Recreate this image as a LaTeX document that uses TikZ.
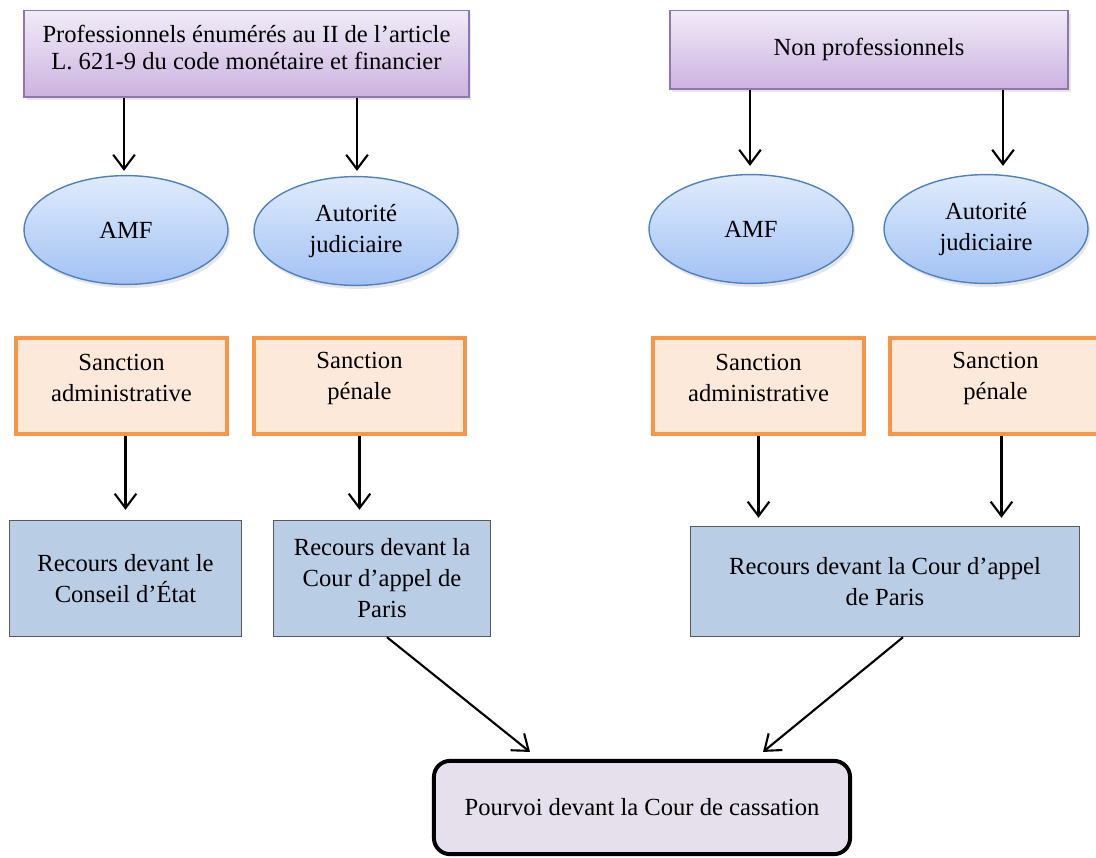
\documentclass[tikz,border=0pt]{standalone}
\usepackage{fontspec}
\setmainfont{Liberation Serif}
\usetikzlibrary{shapes.geometric,arrows.meta,shadows,calc}

\definecolor{purpleline}{HTML}{9075B0}
\definecolor{purpletop}{HTML}{F1ECF8}
\definecolor{purplebot}{HTML}{CCB3E0}
\definecolor{ellline}{HTML}{4F81BD}
\definecolor{elltop}{HTML}{E0EBFC}
\definecolor{ellbot}{HTML}{A2C2F4}
\definecolor{orangeline}{HTML}{F79646}
\definecolor{orangefill}{HTML}{FDE9D9}
\definecolor{recoursline}{HTML}{595959}
\definecolor{recoursfill}{HTML}{B9CDE5}
\definecolor{cassfill}{HTML}{E5E0EC}

\begin{document}
\begin{tikzpicture}[x=0.025cm,y=-0.025cm,
  every node/.style={font=\fontsize{17.5}{22}\selectfont,align=center},
  whobox/.style={draw=purpleline,line width=1.4pt,top color=purpletop,bottom color=purplebot,
    drop shadow={opacity=0.2,shadow xshift=1.5pt,shadow yshift=-2.5pt}},
  authority/.style={ellipse,draw=ellline,line width=1pt,top color=elltop,bottom color=ellbot,
    minimum width=5.1cm,minimum height=2.72cm,
    drop shadow={opacity=0.2,shadow xshift=1.5pt,shadow yshift=-2.5pt}},
  sanction/.style={draw=orangeline,line width=2.8pt,fill=orangefill,
    minimum width=5.28cm,minimum height=2.4cm,
    label={[yshift=0.19cm]center:{#1}}},
  recours/.style={draw=recoursline,line width=1pt,fill=recoursfill},
  flow/.style={-{Straight Barb[length=3.6mm,width=5.4mm]},line width=1.5pt}]
\clip (0,0) rectangle (1096,857);

% who
\node[whobox,minimum width=11.1cm,minimum height=2.15cm,
  label={[yshift=0.15cm,font=\fontsize{17.5}{19.4}\selectfont]center:{Professionnels énumérés au II de l’article\\L. 621-9 du code monétaire et financier}}]
  (pro) at (246.5,53.5) {};
\node[whobox,minimum width=9.97cm,minimum height=1.95cm] (nonpro) at (869,49.5)
  {Non professionnels};

% authorities
\node[authority] (amfA) at (126,230) {AMF};
\node[authority] (judA) at (356,231) {Autorité\\judiciaire};
\node[authority] (amfB) at (751,229) {AMF};
\node[authority] (judB) at (986,229) {Autorité\\judiciaire};

% sanctions
\node[sanction={Sanction\\administrative}] (sanA) at (121.5,386) {};
\node[sanction={Sanction\\pénale}] (sanB) at (359.5,386) {};
\node[sanction={Sanction\\administrative}] (sanC) at (758.5,386) {};
\node[sanction={Sanction\\pénale}] (sanD) at (995.5,386) {};

% appeals
\node[recours,minimum width=5.8cm,minimum height=2.9cm] (recA) at (125.5,578.5)
  {Recours devant le\\Conseil d’État};
\node[recours,minimum width=5.43cm,minimum height=2.9cm] (recB) at (382,578.5)
  {Recours devant la\\Cour d’appel de\\Paris};
\node[recours,minimum width=9.72cm,minimum height=2.75cm] (recC) at (885,581.5)
  {Recours devant la Cour d’appel\\de Paris};

\node[draw,line width=2.8pt,fill=cassfill,rounded corners=0.4cm,
  minimum width=10.4cm,minimum height=2.33cm] (cass) at (642,807.5)
  {Pourvoi devant la Cour de cassation};

% arrows
\draw[flow] ($(pro.south -| amfA)+(-2,0)$) -- ($(amfA.north)+(-2,-4)$);
\draw[flow] ($(pro.south -| judA)+(1,0)$) -- ($(judA.north)+(1,-5)$);
\draw[flow] ($(nonpro.south -| amfB)+(-1,0)$) -- ($(amfB.north)+(-1,-8)$);
\draw[flow] ($(nonpro.south -| judB)+(17,0)$) -- ($(judB.north)+(17,-8)$);

\draw[flow] (sanA.south -| recA) -- ($(recA.north)+(0,-10)$);
\draw[flow] (sanB.south) -- ($(sanB.south |- recB.north)+(0,-10)$);
\draw[flow] (sanC.south) -- ($(sanC.south |- recC.north)+(0,-8)$);
\draw[flow] ($(sanD.south)+(6,0)$) -- ($(sanD.south |- recC.north)+(6,-8)$);

\draw[flow] ($(recB.south)+(5,0)$) -- ($(cass.north)+(-112,-7)$);
\draw[flow] ($(recC.south)+(18,0)$) -- ($(cass.north)+(121,-7)$);
\end{tikzpicture}
\end{document}
